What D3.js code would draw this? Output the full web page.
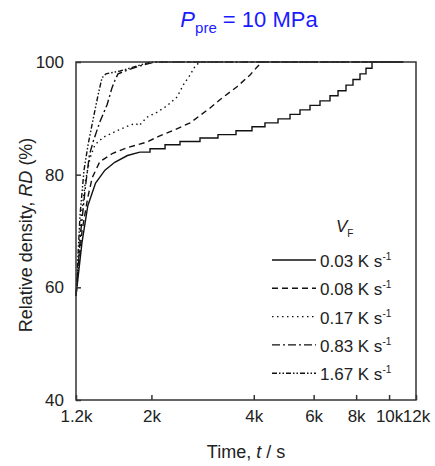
<!DOCTYPE html>
<html>
<head>
<meta charset="utf-8">
<script src="https://cdn.jsdelivr.net/npm/d3@7"></script>
<style>
  body { margin: 0; background: #fff; }
  svg text { font-family: "Liberation Sans", Arial, sans-serif; }
</style>
</head>
<body>
<svg id="chart" width="435" height="466"></svg>
<script>
// heating rates (legend) and line styles
const rates = ["0.03", "0.08", "0.17", "0.83", "1.67"];
const dashes = ["none", "6,4", "1.5,3.5", "8,3,2,3", "5,2,1.5,2,1.5,2"];

// times (s) and relative density (%) per heating rate
// 0.03 K/s turns into a staircase after ~1.85k s, those points are the step corners
const t003 = [1200, 1250, 1300, 1370, 1460, 1560, 1700, 1850, 1981, 2193, 2427, 2779, 3139, 3546, 3952, 4315, 4714, 5113, 5470, 5854, 6264, 6702, 7077, 7470, 7832, 8212, 8553, 8909, 11000];
const rd003 = [58.5, 68, 74.5, 78.5, 80.8, 82.2, 83.4, 84.0, 84.6, 85.3, 85.9, 86.5, 87.1, 87.8, 88.5, 89.2, 89.9, 90.7, 91.5, 92.3, 93.1, 94.0, 94.9, 95.9, 96.9, 97.9, 98.9, 100, 100];
const stepStart = 1850;

const t008 = [1200, 1250, 1300, 1340, 1410, 1540, 1700, 1820, 1940, 2100, 2310, 2600, 2970, 3180, 3570, 3900, 4090, 4230, 11000];
const rd008 = [58.5, 70, 76, 79.5, 82.3, 83.8, 84.8, 85.3, 85.8, 86.8, 87.8, 89.2, 91.8, 93.3, 95.6, 97.7, 99.1, 100, 100];

const t017 = [1200, 1240, 1280, 1320, 1364, 1440, 1584, 1730, 1800, 1840, 1940, 2080, 2220, 2380, 2480, 2600, 2690, 2780, 11000];
const rd017 = [58.5, 72, 79, 83, 85.3, 86.6, 87.8, 88.8, 89.1, 88.7, 90.2, 91.1, 92.2, 93.8, 95.9, 97.7, 99.3, 100, 100];

const t083 = [1200, 1240, 1280, 1314, 1350, 1411, 1481, 1531, 1563, 1595, 1707, 1852, 2050, 11000];
const rd083 = [58.5, 70, 78, 83.5, 86, 89.4, 92.4, 95.4, 96.8, 97.9, 98.6, 99.3, 100, 100];

const t167 = [1200, 1233, 1267, 1302, 1346, 1393, 1431, 1470, 1617, 1815, 1981, 11000];
const rd167 = [58.5, 72.8, 80.8, 85.3, 89.7, 94.1, 97.2, 97.9, 98.4, 99.3, 100, 100];

const xTicks = [1200, 2000, 4000, 6000, 8000, 10000, 12000];
const xLabels = ["1.2k", "2k", "4k", "6k", "8k", "10k", "12k"];
const yTicks = [40, 60, 80, 100];

const series = [[t003, rd003], [t008, rd008], [t017, rd017], [t083, rd083], [t167, rd167]];

const svg = d3.select("#chart");
const margin = { top: 62, right: 19, bottom: 66, left: 76 };
const innerWidth = 435 - margin.left - margin.right;
const innerHeight = 466 - margin.top - margin.bottom;
const g = svg.append("g").attr("transform", `translate(${margin.left},${margin.top})`);

const xScale = d3.scaleLog().domain([1200, 12000]).range([0, innerWidth]);
const yScale = d3.scaleLinear().domain([40, 100]).range([innerHeight, 0]);
const axisColor = "#333";

// title
const title = svg.append("text")
    .attr("x", 249).attr("y", 27)
    .attr("text-anchor", "middle")
    .style("font-size", "22px")
    .style("fill", "#1a1aff");
title.append("tspan").style("font-style", "italic").text("P");
title.append("tspan").attr("dy", 6).style("font-size", "15px").text("pre");
title.append("tspan").attr("dy", -6).text(" = 10 MPa");

// curves
const line = d3.line()
    .x(d => xScale(d[0]))
    .y(d => yScale(d[1]));
const stepLine = d3.line()
    .x(d => xScale(d[0]))
    .y(d => yScale(d[1]))
    .curve(d3.curveStepAfter);

function drawPath(pts, dash, gen) {
    g.append("path")
        .datum(pts)
        .attr("fill", "none")
        .attr("stroke", "#111")
        .attr("stroke-width", 1.4)
        .attr("stroke-dasharray", dash)
        .attr("d", gen);
}

series.forEach((s, i) => {
    const pts = s[0].map((t, j) => [t, s[1][j]]);
    if (i === 0) {
        drawPath(pts.filter(d => d[0] <= stepStart), dashes[i], line);
        drawPath(pts.filter(d => d[0] >= stepStart), dashes[i], stepLine);
    } else {
        drawPath(pts, dashes[i], line);
    }
});

// box
g.append("rect")
    .attr("width", innerWidth).attr("height", innerHeight)
    .attr("fill", "none").attr("stroke", axisColor).attr("stroke-width", 1.5);

// x axis ticks (inward)
const xAxis = g.append("g").attr("transform", `translate(0,${innerHeight})`)
    .call(d3.axisBottom(xScale).tickValues(xTicks).tickSizeInner(-5).tickSizeOuter(0)
        .tickPadding(10).tickFormat((d, i) => xLabels[i]));
xAxis.select(".domain").remove();
xAxis.selectAll("line").attr("stroke", axisColor).attr("stroke-width", 1.5);
xAxis.selectAll("text").style("font-size", "17px").style("fill", "#222")
    .style("font-family", "Liberation Sans, Arial, sans-serif");

// y axis ticks (inward)
const yAxis = g.append("g")
    .call(d3.axisLeft(yScale).tickValues(yTicks).tickSizeInner(-5).tickSizeOuter(0).tickPadding(12));
yAxis.select(".domain").remove();
yAxis.selectAll("line").attr("stroke", axisColor).attr("stroke-width", 1.5);
yAxis.selectAll("text").style("font-size", "17px").style("fill", "#222")
    .style("font-family", "Liberation Sans, Arial, sans-serif");

// axis titles
const xt = g.append("text")
    .attr("x", innerWidth / 2).attr("y", innerHeight + 58)
    .attr("text-anchor", "middle")
    .style("font-size", "18px").style("fill", "#222");
xt.append("tspan").text("Time, ");
xt.append("tspan").style("font-style", "italic").text("t");
xt.append("tspan").text(" / s");

const yt = g.append("text")
    .attr("transform", "rotate(-90)")
    .attr("x", -innerHeight / 2 - 4).attr("y", -margin.left + 32)
    .attr("text-anchor", "middle")
    .style("font-size", "18px").style("fill", "#222");
yt.append("tspan").text("Relative density, ");
yt.append("tspan").style("font-style", "italic").text("RD");
yt.append("tspan").text(" (%)");

// legend
const legend = svg.append("g");
const vf = legend.append("text").attr("x", 336).attr("y", 232)
    .style("font-size", "17px").style("fill", "#222");
vf.append("tspan").style("font-style", "italic").text("V");
vf.append("tspan").attr("dy", 5).style("font-size", "10px").text("F");

rates.forEach((r, i) => {
    const y = 260 + i * 28.3;
    legend.append("line")
        .attr("x1", 272).attr("x2", 316).attr("y1", y).attr("y2", y)
        .attr("stroke", "#111").attr("stroke-width", 1.4)
        .attr("stroke-dasharray", dashes[i]);
    const tx = legend.append("text").attr("x", 320).attr("y", y + 7)
        .style("font-size", "17px").style("fill", "#222");
    tx.append("tspan").text(`${r} K s`);
    tx.append("tspan").attr("dy", -7).style("font-size", "10px").text("-1");
});
</script>
</body>
</html>
